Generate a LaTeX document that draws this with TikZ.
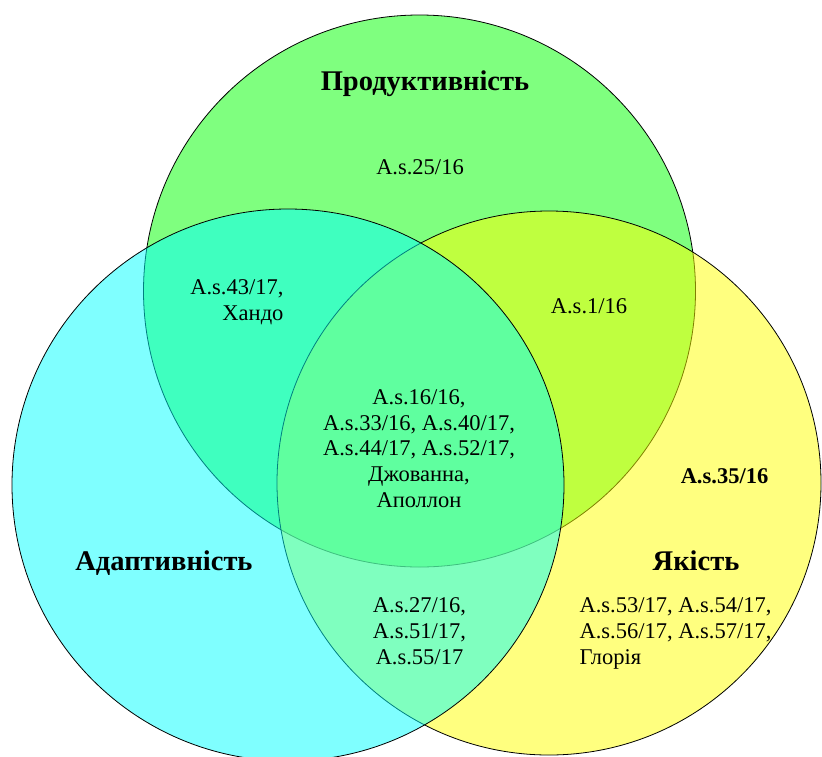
\documentclass[tikz,border=0pt]{standalone}
\usepackage{fontspec}
\setmainfont{Liberation Serif}
\definecolor{setp}{RGB}{0,255,0}
\definecolor{seta}{RGB}{0,255,255}
\definecolor{setq}{RGB}{255,255,0}
\begin{document}
\begin{tikzpicture}[x=1pt,y=-1pt,
 ring/.style={circle,draw=black,line width=.8pt,fill opacity=.5,inner sep=0pt},
 txt/.style={anchor=base,align=center,font=\fontsize{22.5}{25.6}\selectfont},
 ttl/.style={anchor=base,font=\fontsize{28.5}{32}\selectfont\bfseries}]
\useasboundingbox (0,0) rectangle (822,756);
\fill[white] (0,0) rectangle (822,756);
% three sets, green under yellow under cyan
\node[ring,fill=setp,minimum size=552pt] (P) at (419.5,291) {};
\node[ring,fill=setq,minimum size=544pt] (Q) at (549,483) {};
\node[ring,fill=seta,minimum size=552pt] (A) at (288,485) {};
\path (425,90.7) node[ttl] (prod) {Продуктивність}
 (164,570) node[ttl] (adapt) {Адаптивність}
 (696,570) node[ttl] (yak) {Якість};
% base of a multi-line node is its last line
\path (420,174) node[txt] (p) {A.s.25/16}
 (287,320) node[txt,anchor=base east,align=right] (pa) {A.s.43/17,\\Хандо}
 (589,313) node[txt] (pq) {A.s.1/16}
 (419,507) node[txt] (paq) {A.s.16/16,\\A.s.33/16, A.s.40/17,\\A.s.44/17, A.s.52/17,\\Джованна,\\Аполлон}
 (419.5,664) node[txt] (aq) {A.s.27/16,\\A.s.51/17,\\A.s.55/17}
 (724.5,483) node[txt,font=\fontsize{22.5}{25.6}\selectfont\bfseries] (q1) {A.s.35/16}
 (576,664) node[txt,anchor=base west,align=left] (q) {A.s.53/17, A.s.54/17,\\A.s.56/17, A.s.57/17,\\Глорія};
\end{tikzpicture}
\end{document}
